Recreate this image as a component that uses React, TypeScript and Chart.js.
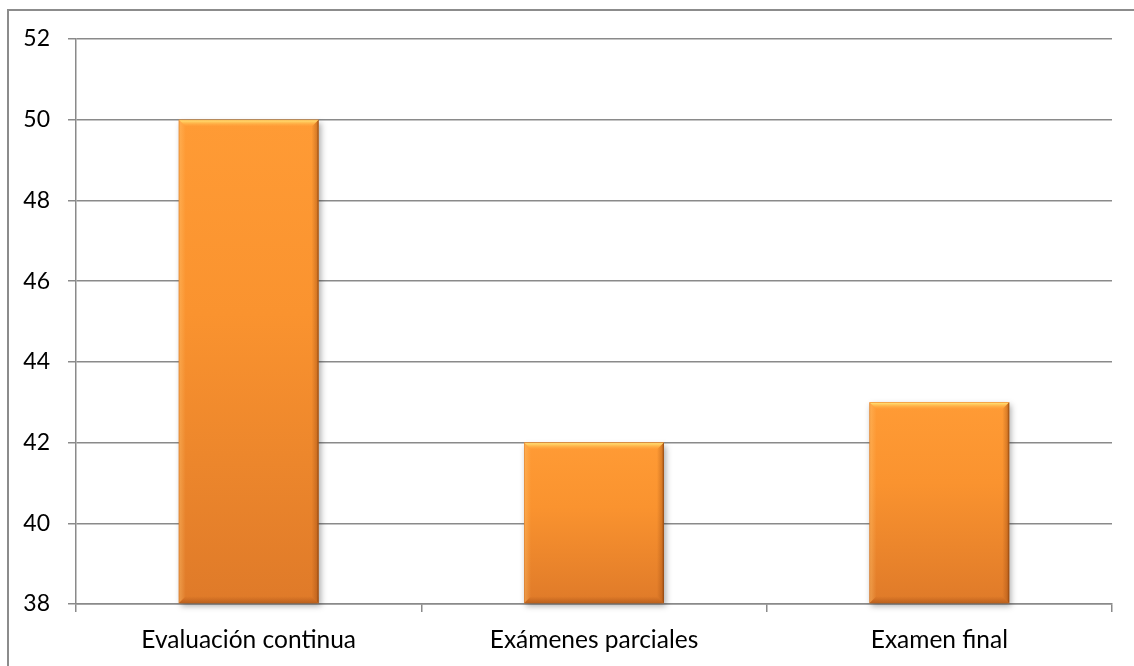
import React, { useEffect, useRef } from 'react';
import { Chart, registerables } from 'chart.js';

Chart.register(...registerables);

const categories = ['Evaluación continua', 'Exámenes parciales', 'Examen final'];
const values = [50, 42, 43];
const yMin = 38;
const yMax = 52;
const yStep = 2;

const GRID = '#8a8a8a';
const FONT = 'Lato';

const shadowPlugin = {
  id: 'barShadow',
  beforeDatasetsDraw(chart: any) {
    const ctx = chart.ctx;
    ctx.save();
    ctx.shadowColor = 'rgba(0,0,0,0.32)';
    ctx.shadowBlur = 6;
    ctx.shadowOffsetX = 2;
    ctx.shadowOffsetY = 3;
  },
  afterDatasetsDraw(chart: any) {
    const ctx = chart.ctx;
    ctx.restore();
    const meta = chart.getDatasetMeta(0);
    meta.data.forEach((el: any) => {
      const p = el.getProps(['x', 'y', 'base', 'width'], true);
      const L = p.x - p.width / 2;
      const R = p.x + p.width / 2;
      const T = Math.min(p.y, p.base);
      const B = Math.max(p.y, p.base);
      const bw = 7;
      ctx.save();
      // top bevel
      let g = ctx.createLinearGradient(0, T, 0, T + bw);
      g.addColorStop(0, 'rgba(240,140,40,1)');
      g.addColorStop(0.15, 'rgba(255,218,112,1)');
      g.addColorStop(0.45, 'rgba(255,200,90,0.7)');
      g.addColorStop(1, 'rgba(255,170,70,0)');
      ctx.fillStyle = g;
      ctx.beginPath();
      ctx.moveTo(L, T);
      ctx.lineTo(R, T);
      ctx.lineTo(R - bw, T + bw);
      ctx.lineTo(L + bw, T + bw);
      ctx.closePath();
      ctx.fill();
      // left bevel
      g = ctx.createLinearGradient(L, 0, L + bw, 0);
      g.addColorStop(0, 'rgba(200,110,30,0.6)');
      g.addColorStop(0.2, 'rgba(255,200,120,0.35)');
      g.addColorStop(1, 'rgba(255,200,120,0)');
      ctx.fillStyle = g;
      ctx.beginPath();
      ctx.moveTo(L, T);
      ctx.lineTo(L + bw, T + bw);
      ctx.lineTo(L + bw, B - bw);
      ctx.lineTo(L, B);
      ctx.closePath();
      ctx.fill();
      // right bevel
      g = ctx.createLinearGradient(R - bw, 0, R, 0);
      g.addColorStop(0, 'rgba(150,70,15,0)');
      g.addColorStop(0.7, 'rgba(150,70,15,0.35)');
      g.addColorStop(1, 'rgba(130,60,10,0.9)');
      ctx.fillStyle = g;
      ctx.beginPath();
      ctx.moveTo(R, T);
      ctx.lineTo(R, B);
      ctx.lineTo(R - bw, B - bw);
      ctx.lineTo(R - bw, T + bw);
      ctx.closePath();
      ctx.fill();
      // bottom bevel
      g = ctx.createLinearGradient(0, B - bw, 0, B);
      g.addColorStop(0, 'rgba(160,75,20,0)');
      g.addColorStop(1, 'rgba(150,70,15,0.5)');
      ctx.fillStyle = g;
      ctx.beginPath();
      ctx.moveTo(L, B);
      ctx.lineTo(R, B);
      ctx.lineTo(R - bw, B - bw);
      ctx.lineTo(L + bw, B - bw);
      ctx.closePath();
      ctx.fill();
      ctx.restore();
    });
  },
};

export default function App() {
  const ref = useRef<HTMLCanvasElement | null>(null);

  useEffect(() => {
    if (!ref.current) return;
    const chart = new Chart(ref.current, {
      type: 'bar',
      data: {
        labels: categories,
        datasets: [
          {
            data: values,
            base: yMin,
            clip: false as any,
            borderWidth: 0,
            barPercentage: 0.405,
            categoryPercentage: 1,
            backgroundColor: (c: any) => {
              const chart = c.chart;
              const ys = chart.scales && chart.scales.y;
              if (!ys || c.type !== 'data') return '#F7902E';
              const top = ys.getPixelForValue(c.raw as number);
              const bot = ys.getPixelForValue(yMin);
              if (!isFinite(top) || !isFinite(bot) || top === bot) return '#F7902E';
              const g = chart.ctx.createLinearGradient(0, top, 0, bot);
              g.addColorStop(0, '#FF9B35');
              g.addColorStop(0.4, '#FA932F');
              g.addColorStop(1, '#DF7A29');
              return g;
            },
          } as any,
        ],
      },
      options: {
        responsive: false,
        devicePixelRatio: 1,
        animation: false,
        events: [],
        layout: { padding: { top: 39, right: 22, left: 0, bottom: 0 } },
        plugins: { legend: { display: false }, tooltip: { enabled: false } },
        scales: {
          x: {
            afterFit: (s: any) => {
              s.height = 62;
            },
            grid: {
              offset: true,
              drawOnChartArea: false,
              drawTicks: true,
              tickLength: 8,
              color: GRID,
              lineWidth: 1.5,
            },
            border: { display: true, color: GRID, width: 1.5 },
            ticks: {
              color: '#000',
              padding: 13,
              font: { family: FONT, size: 24.5 },
            },
          },
          y: {
            min: yMin,
            max: yMax,
            afterFit: (s: any) => {
              s.width = 76;
            },
            grid: {
              color: GRID,
              lineWidth: 1.5,
              drawTicks: true,
              tickLength: 8,
            },
            border: { display: true, color: GRID, width: 1.5 },
            ticks: {
              stepSize: yStep,
              color: '#000',
              padding: 18,
              font: { family: FONT, size: 23 },
            },
          },
        },
      },
      plugins: [shadowPlugin],
    });
    return () => chart.destroy();
  }, []);

  return (
    <div
      style={{
        position: 'fixed',
        left: 0,
        top: 0,
        width: 1134,
        height: 666,
        background: '#fff',
        overflow: 'hidden',
      }}
    >
      <div
        style={{
          position: 'absolute',
          left: 7,
          top: 9,
          width: 1300,
          height: 800,
          borderLeft: '2px solid #8c8c8c',
          borderTop: '2px solid #8c8c8c',
        }}
      />
      <canvas
        ref={ref}
        width={1134}
        height={666}
        style={{ position: 'absolute', left: 0, top: 0, width: 1134, height: 666 }}
      />
    </div>
  );
}
